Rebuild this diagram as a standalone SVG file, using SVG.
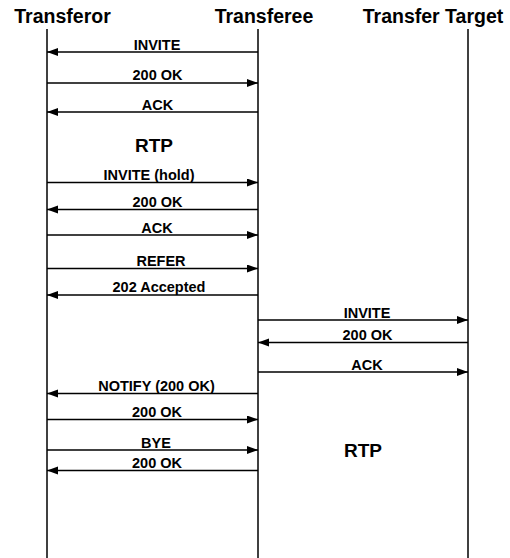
<svg xmlns="http://www.w3.org/2000/svg" width="510" height="558" viewBox="0 0 510 558">
<style>
.title{font-family:"Liberation Sans",Arial,sans-serif;font-weight:bold;font-size:19.5px;fill:#000;text-anchor:middle}
.lbl{font-family:"Liberation Sans",Arial,sans-serif;font-weight:bold;font-size:14.5px;fill:#000;text-anchor:middle}
.rtp{font-family:"Liberation Sans",Arial,sans-serif;font-weight:bold;font-size:19px;fill:#000;text-anchor:middle}
.life{stroke:#000;stroke-width:1.5;fill:none}
.msg{stroke:#000;stroke-width:1.5;fill:none;marker-end:url(#ah)}
</style>
<defs>
<marker id="ah" markerUnits="userSpaceOnUse" markerWidth="12" markerHeight="9" refX="11" refY="4" orient="auto">
<path d="M0,0 L11,4 L0,8 z" fill="#000"/>
</marker>
</defs>
<rect width="510" height="558" fill="#fff"/>
<g id="transferor">
<text class="title" x="62.5" y="23">Transferor</text>
<line class="life" x1="47" y1="29" x2="47" y2="558"/>
</g>
<g id="transferee">
<text class="title" x="264" y="23">Transferee</text>
<line class="life" x1="258" y1="29" x2="258" y2="558"/>
</g>
<g id="transfer-target">
<text class="title" x="433" y="23">Transfer Target</text>
<line class="life" x1="468" y1="29" x2="468" y2="558"/>
</g>
<g id="connectors">
<line class="msg" x1="258" y1="52" x2="47" y2="52"/>
<text class="lbl" x="157" y="49.5">INVITE</text>
<line class="msg" x1="47" y1="83" x2="258" y2="83"/>
<text class="lbl" x="157.5" y="80">200 OK</text>
<line class="msg" x1="258" y1="112" x2="47" y2="112"/>
<text class="lbl" x="157.5" y="109.5">ACK</text>
<line class="msg" x1="47" y1="182.5" x2="258" y2="182.5"/>
<text class="lbl" x="149" y="180">INVITE (hold)</text>
<line class="msg" x1="258" y1="209.5" x2="47" y2="209.5"/>
<text class="lbl" x="157.5" y="207">200 OK</text>
<line class="msg" x1="47" y1="235" x2="258" y2="235"/>
<text class="lbl" x="157" y="232.5">ACK</text>
<line class="msg" x1="47" y1="268.5" x2="258" y2="268.5"/>
<text class="lbl" x="161" y="266">REFER</text>
<line class="msg" x1="258" y1="295" x2="47" y2="295"/>
<text class="lbl" x="159" y="292">202 Accepted</text>
<line class="msg" x1="258" y1="320" x2="468" y2="320"/>
<text class="lbl" x="367" y="317.5">INVITE</text>
<line class="msg" x1="468" y1="342.5" x2="258" y2="342.5"/>
<text class="lbl" x="367.5" y="340">200 OK</text>
<line class="msg" x1="258" y1="372" x2="468" y2="372"/>
<text class="lbl" x="367" y="369.5">ACK</text>
<line class="msg" x1="258" y1="393.5" x2="47" y2="393.5"/>
<text class="lbl" x="156.5" y="391">NOTIFY (200 OK)</text>
<line class="msg" x1="47" y1="419.5" x2="258" y2="419.5"/>
<text class="lbl" x="157" y="417">200 OK</text>
<line class="msg" x1="47" y1="450" x2="258" y2="450"/>
<text class="lbl" x="156" y="447.5">BYE</text>
<line class="msg" x1="258" y1="470.5" x2="47" y2="470.5"/>
<text class="lbl" x="157" y="468">200 OK</text>
</g>
<g id="media">
<text class="rtp" x="154" y="151.5">RTP</text>
<text class="rtp" x="363" y="456.5">RTP</text>
</g>
</svg>
